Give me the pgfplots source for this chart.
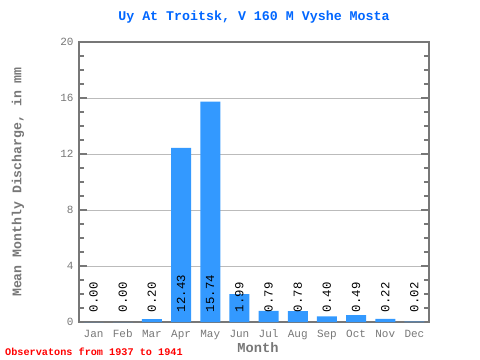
\documentclass[border=0pt]{standalone}
\usepackage{pgfplots}
\pgfplotsset{compat=1.18}
\usepackage{fontspec}
\setmainfont{Liberation Mono}
\definecolor{barblue}{HTML}{3399FF}
\definecolor{titleblue}{HTML}{0066FF}
\definecolor{axgray}{HTML}{777777}
\definecolor{gridgray}{HTML}{BBBBBB}
\begin{document}
\begin{tikzpicture}
\begin{axis}[
  at={(0,0)}, anchor=south west,
  scale only axis, width=350bp, height=280bp,
  xmin=0.5, xmax=12.5, ymin=0, ymax=20,
  clip=false,
  axis line style={axgray, line width=1.6bp},
  xtick={1,...,12},
  xticklabels={Jan,Feb,Mar,Apr,May,Jun,Jul,Aug,Sep,Oct,Nov,Dec},
  major x tick style={draw=none},
  extra x ticks={0.5,1.5,...,12.5},
  extra x tick labels={},
  extra x tick style={major tick length=5bp, tick style={axgray, line width=1.4bp}, tick align=inside, tick pos=both, grid=none},
  ytick={0,4,...,20},
  minor y tick num=3,
  ymajorgrids,
  major grid style={gridgray, line width=0.6bp},
  tick align=inside,
  ytick pos=both,
  major tick length=8bp, minor tick length=5bp,
  every tick/.style={axgray, line width=1.4bp},
  yticklabel pos=left,
  /pgf/number format/assume math mode=true,
  ticklabel style={font=\fontsize{11bp}{12bp}\selectfont, text=axgray},
  xticklabel style={anchor=base, yshift=-15bp},
  yticklabel style={xshift=-2bp},
]
\addplot[ybar, bar width=20bp, fill=barblue, draw=none] coordinates {
(1,0.00) (2,0.00) (3,0.20) (4,12.43) (5,15.74) (6,1.99) (7,0.79) (8,0.78) (9,0.40) (10,0.49) (11,0.22) (12,0.02)};
\addplot[draw=none, mark=none, nodes near coords, point meta=explicit symbolic,
  every node near coord/.style={rotate=90, anchor=west, inner sep=0pt, font=\fontsize{12.3bp}{13bp}\selectfont, text=black}]
  table[meta=lbl] {
x y lbl
1 0.7 0.00
2 0.7 0.00
3 0.7 0.20
4 0.7 12.43
5 0.7 15.74
6 0.7 1.99
7 0.7 0.79
8 0.7 0.78
9 0.7 0.40
10 0.7 0.49
11 0.7 0.22
12 0.7 0.02
};
\node[font=\bfseries\fontsize{13.3bp}{14bp}\selectfont, text=titleblue] at ([yshift=25bp]rel axis cs:0.5,1) {Uy At Troitsk, V 160 M Vyshe Mosta};
\node[font=\bfseries\fontsize{13.2bp}{14bp}\selectfont, text=axgray, rotate=90] at ([xshift=-61bp]rel axis cs:0,0.5) {Mean Monthly Discharge, in mm};
\node[font=\bfseries\fontsize{13.7bp}{14bp}\selectfont, text=axgray] at ([xshift=4bp, yshift=-26bp]rel axis cs:0.5,0) {Month};
\end{axis}
\node[font=\bfseries\fontsize{10.2bp}{11bp}\selectfont, text=red, anchor=west, inner sep=0pt] at (-74bp,-30bp) {Observatons from 1937 to 1941};
\useasboundingbox (-79bp,-38bp) rectangle (401bp,322bp);
\end{tikzpicture}
\end{document}
